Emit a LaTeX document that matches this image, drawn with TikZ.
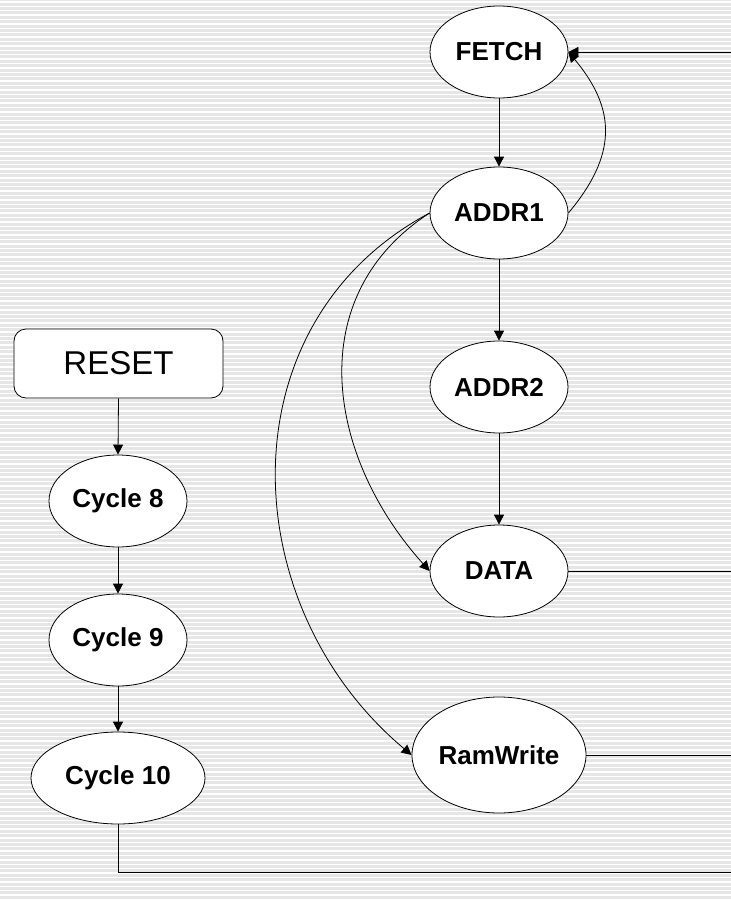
\documentclass[tikz,border=0pt]{standalone}
\usepackage{fontspec}
\setmainfont{Liberation Sans}
\usetikzlibrary{arrows.meta,shapes.geometric}
\definecolor{bggray}{HTML}{E6E6E6}
\tikzset{
  st/.style={ellipse, draw, fill=white, line width=0.8bp, inner sep=0pt,
    minimum width=138bp, minimum height=92bp,
    font=\fontsize{26bp}{30bp}\selectfont\bfseries},
  bigst/.style={st, minimum width=174bp},
  rbox/.style={rectangle, rounded corners=12bp, draw, fill=white, line width=0.8bp,
    minimum width=209bp, minimum height=69bp, inner sep=0pt,
    font=\fontsize{33bp}{38bp}\selectfont},
  conn/.style={line width=0.8bp},
  arr/.style={conn, -{Triangle[length=10bp,width=10bp]}}
}
\begin{document}
\begin{tikzpicture}[x=1bp,y=1bp]
\useasboundingbox (0,0) rectangle (731,-900);
\fill[bggray] (0,0) rectangle (731,-900);
\foreach \i in {0,...,205} {
  \fill[white] (0,{-1.2-4.4*\i}) rectangle (731,{-2.5-4.4*\i});
}
% nodes
\node[st] (fetch) at (499,-52) {FETCH};
\node[st] (addr1) at (499,-213) {ADDR1};
\node[st] (addr2) at (499,-387) {ADDR2};
\node[st] (data) at (499,-571) {DATA};
\node[bigst, minimum height=116bp] (ram) at (499,-755) {RamWrite};
\node[rbox] (reset) at (118.5,-363.5) {RESET};
\node[st] (c8) at (118,-501) {Cycle 8};
\node[st] (c9) at (118,-640) {Cycle 9};
\node[bigst] (c10) at (118,-778) {Cycle 10};
% edge coordinates
\coordinate (eF) at (731,-52);
\coordinate (eD) at (731,-571);
\coordinate (eR) at (731,-755);
\coordinate (eB) at (731,-872);
% connectors
\draw[arr] (fetch.south) -- (addr1.north);
\draw[arr] (addr1.south) -- (addr2.north);
\draw[arr] (addr2.south) -- (data.north);
\draw[arr] (addr1.east) to[out=50,in=-50,looseness=1.2] (fetch.east);
\draw[arr] (eF) -- (fetch.east);
\draw[arr] (addr1.west) to[out=213,in=132,looseness=1.1] (data.west);
\draw[arr] (addr1.west) to[out=208,in=140,looseness=1.1] (ram.west);
\draw[conn] (data.east) -- (eD);
\draw[conn] (ram.east) -- (eR);
\draw[arr] (reset.south) -- (c8.north);
\draw[arr] (c8.south) -- (c9.north);
\draw[arr] (c9.south) -- (c10.north);
\draw[conn] (c10.south) |- (eB);
\end{tikzpicture}
\end{document}
